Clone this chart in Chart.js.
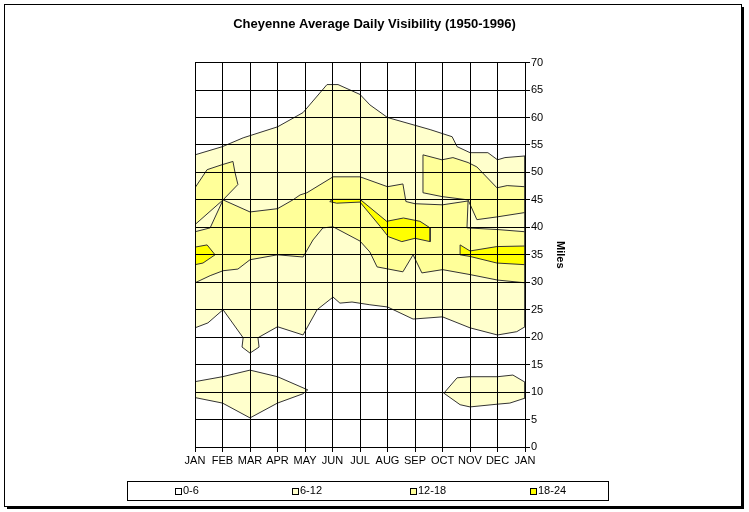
<!DOCTYPE html>
<html>
<head>
<meta charset="utf-8">
<title>Cheyenne Average Daily Visibility (1950-1996)</title>
<script src="https://cdn.jsdelivr.net/npm/chart.js@4.4.0/dist/chart.umd.min.js"></script>
<style>
  html, body { margin: 0; padding: 0; background: #fff; }
</style>
</head>
<body>
<canvas id="chart" width="749" height="512"></canvas>
<script>
// month labels for the x axis (0 = JAN ... 12 = JAN again)
const months = ['JAN', 'FEB', 'MAR', 'APR', 'MAY', 'JUN', 'JUL', 'AUG', 'SEP', 'OCT', 'NOV', 'DEC', 'JAN'];
const bandLabels = ['0-6', '6-12', '12-18', '18-24'];

// contour regions, [month position, miles]
const zone6to12Main = [
  [0, 53.2], [1.0, 54.7], [1.75, 56.3], [3.0, 58.3], [3.93, 60.9], [4.8, 66.0], [5.2, 66.0],
  [6.0, 64.2], [6.36, 62.3], [7.0, 60.0], [8.55, 57.8], [9.35, 56.5], [9.53, 54.7], [10.0, 53.6],
  [10.65, 53.6], [11.0, 52.3], [11.27, 52.7], [12, 53.0],
  [12, 21.9], [11.7, 21.0], [11.0, 20.4], [10.0, 21.7], [9.0, 23.7], [7.93, 23.3], [7.0, 25.5],
  [6.36, 25.9], [5.71, 26.4], [5.27, 26.2], [5.02, 27.3], [4.44, 25.0], [3.93, 20.4], [3.0, 21.9],
  [2.29, 19.9], [2.33, 18.2], [2.0, 17.1], [1.71, 18.2], [1.75, 19.9], [1.02, 25.0], [0.47, 22.6],
  [0, 21.7]
];
const zone6to12West = [
  [0, 11.9], [1.0, 12.8], [2.0, 14.0], [3.0, 12.8], [4.1, 10.4], [3.93, 9.7], [3.0, 8.0],
  [2.0, 5.3], [1.0, 8.0], [0, 9.0]
];
const zone6to12East = [
  [9.05, 9.8], [9.53, 12.6], [10.0, 12.8], [11.0, 12.8], [11.56, 13.1], [12, 11.8], [12, 8.9],
  [11.45, 8.0], [11.0, 7.8], [10.0, 7.3], [9.64, 7.7]
];
const zone12to18Main = [
  [0, 39.2], [0.55, 39.9], [1.02, 45.0], [2.0, 42.8], [3.0, 43.4], [3.56, 45.0], [3.82, 45.9],
  [4.07, 46.3], [5.02, 49.2], [6.0, 49.2], [7.0, 47.4], [7.56, 47.9], [7.67, 44.7], [8.0, 44.3],
  [9.0, 44.1], [9.93, 44.8], [9.89, 39.9], [11.0, 39.6], [12, 39.2],
  [12, 29.9], [11.0, 30.4], [10.0, 31.4], [9.0, 32.3], [8.25, 31.7], [7.93, 35.0], [7.56, 31.9],
  [6.62, 32.8], [6.36, 35.5], [6.0, 37.5], [5.02, 40.1], [4.65, 39.9], [4.29, 37.7], [3.93, 34.6],
  [3.0, 35.0], [2.0, 34.1], [1.56, 32.4], [1.02, 32.1], [0.55, 31.2], [0, 29.9]
];
const zone12to18Lobe = [
  [0, 47.2], [0.44, 50.5], [0.98, 51.4], [1.38, 52.0], [1.45, 50.1], [1.56, 47.8], [1.02, 45.0],
  [0, 40.5]
];
const zone12to18Fall = [
  [8.29, 53.2], [8.98, 52.3], [9.38, 52.7], [9.93, 51.8], [10.25, 51.0], [10.98, 47.2],
  [11.35, 47.6], [12, 47.4], [12, 42.7], [10.98, 41.9], [10.25, 41.4], [9.93, 45.0],
  [8.98, 45.6], [8.29, 46.3]
];
const zone18to24Jan = [
  [0, 36.4], [0.44, 36.8], [0.73, 35.0], [0.29, 33.5], [0, 33.2]
];
const zone18to24Summer = [
  [4.9, 44.7], [5.0, 45.1], [6.0, 45.1], [6.97, 41.1], [7.58, 41.7], [8.18, 41.1], [8.55, 39.9],
  [8.55, 37.4], [8.0, 38.0], [7.52, 37.4], [7.03, 38.3], [6.73, 40.2], [6.0, 44.6], [5.15, 44.4]
];
const zone18to24Dec = [
  [9.64, 36.8], [10.0, 35.7], [10.98, 36.5], [12, 36.6], [12, 33.2], [10.98, 33.5],
  [10.0, 34.7], [9.64, 35.0]
];

const bandColors = ['#FFFFFF', '#FFFFCC', '#FFFF99', '#FFFF00'];
const fontFamily = 'Arial, "Liberation Sans", sans-serif';

function polygon(points, band) {
  const data = points.map(p => ({ x: p[0], y: p[1] }));
  data.push({ x: points[0][0], y: points[0][1] });
  return {
    data: data,
    showLine: true,
    fill: 'shape',
    backgroundColor: bandColors[band],
    borderColor: '#333333',
    borderWidth: 1,
    pointRadius: 0,
    pointHoverRadius: 0,
    tension: 0,
    order: 10 - band
  };
}

const datasets = [
  polygon(zone6to12Main, 1),
  polygon(zone6to12West, 1),
  polygon(zone6to12East, 1),
  polygon(zone12to18Main, 2),
  polygon(zone12to18Lobe, 2),
  polygon(zone12to18Fall, 2),
  polygon(zone18to24Jan, 3),
  polygon(zone18to24Summer, 3),
  polygon(zone18to24Dec, 3)
];

// white page, frame with a drop shadow
const frame = {
  id: 'frame',
  beforeDraw(chart) {
    const ctx = chart.ctx;
    ctx.save();
    ctx.fillStyle = '#fff';
    ctx.fillRect(0, 0, chart.width, chart.height);
    ctx.restore();
  },
  afterDraw(chart) {
    const ctx = chart.ctx;
    ctx.save();
    ctx.strokeStyle = '#000';
    ctx.lineWidth = 1;
    ctx.strokeRect(4.5, 4.5, 737, 502);
    ctx.fillStyle = '#000';
    ctx.fillRect(742, 7, 2, 502);
    ctx.fillRect(7, 507, 737, 2);
    ctx.restore();
  }
};

// Excel style legend: boxed, entries centred in equal slots
const legendBox = {
  id: 'legendBox',
  afterDraw(chart) {
    const ctx = chart.ctx;
    const left = 127, top = 481, width = 481, height = 19;
    ctx.save();
    ctx.strokeStyle = '#000';
    ctx.lineWidth = 1;
    ctx.strokeRect(left + 0.5, top + 0.5, width, height);
    ctx.font = '11px ' + fontFamily;
    ctx.textBaseline = 'middle';
    const slot = width / bandLabels.length;
    const cy = top + height / 2 + 0.5;
    bandLabels.forEach((label, i) => {
      const textW = ctx.measureText(label).width;
      const itemW = 7 + 1 + textW;
      const x0 = Math.round(left + slot * i + (slot - itemW) / 2);
      ctx.fillStyle = bandColors[i];
      ctx.fillRect(x0, Math.round(cy - 3.5), 7, 7);
      ctx.strokeStyle = '#000';
      ctx.strokeRect(x0 + 0.5, Math.round(cy - 3.5) + 0.5, 6, 6);
      ctx.fillStyle = '#000';
      ctx.fillText(label, x0 + 8, cy);
    });
    ctx.restore();
  }
};

new Chart(document.getElementById('chart'), {
  type: 'scatter',
  data: { datasets: datasets },
  options: {
    responsive: false,
    animation: false,
    events: [],
    layout: { padding: { top: 0, left: 0, right: 0, bottom: 40 } },
    plugins: {
      legend: { display: false },
      tooltip: { enabled: false },
      title: {
        display: true,
        text: 'Cheyenne Average Daily Visibility (1950-1996)',
        color: '#000',
        font: { family: fontFamily, size: 13, weight: 'bold' },
        padding: { top: 17, bottom: 30 }
      }
    },
    scales: {
      x: {
        type: 'linear',
        position: 'bottom',
        min: 0,
        max: 12,
        z: 1,
        ticks: {
          stepSize: 1,
          autoSkip: false,
          maxRotation: 0,
          padding: 2,
          color: '#000',
          font: { family: fontFamily, size: 11 },
          callback: v => months[v]
        },
        // grid drawn over the contour fills, as in Excel
        grid: { color: '#000', tickColor: '#000', tickLength: 5, z: 1 },
        border: { color: '#000', z: 1 },
        afterFit: s => { s.height = 25; }
      },
      y: {
        type: 'linear',
        position: 'right',
        min: 0,
        max: 70,
        z: 1,
        ticks: {
          stepSize: 5,
          padding: 1,
          color: '#000',
          font: { family: fontFamily, size: 11 }
        },
        grid: { color: '#000', tickColor: '#000', tickLength: 5, z: 1 },
        border: { color: '#000', z: 1 },
        title: {
          display: true,
          text: 'Miles',
          color: '#000',
          font: { family: fontFamily, size: 11, weight: 'bold' },
          padding: { top: 182, bottom: 0 }
        },
        afterFit: s => { s.width = 224; }
      },
      yLeft: {
        type: 'linear',
        position: 'left',
        display: true,
        grid: { display: false },
        border: { display: false },
        ticks: { display: false },
        afterFit: s => { s.width = 195; }
      }
    }
  },
  plugins: [frame, legendBox]
});
</script>
</body>
</html>
